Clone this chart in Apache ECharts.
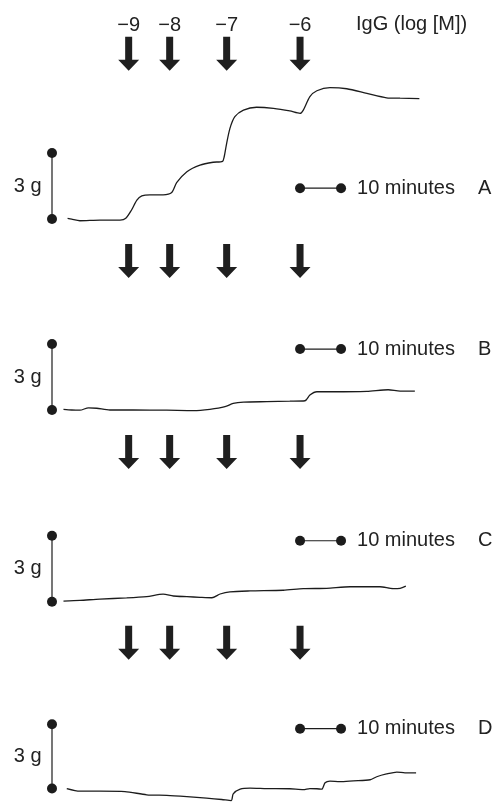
<!DOCTYPE html>
<html><head><meta charset="utf-8">
<script src="https://cdn.jsdelivr.net/npm/echarts@6/dist/echarts.min.js"></script>
<style>html,body{margin:0;padding:0;background:#fff}#c{width:494px;height:810px}</style>
</head><body><div id="c"></div>
<script>
// ---- data (time in minutes, tension in g) ----
const panels = ['A', 'B', 'C', 'D'];
const doseLabels = ['−9', '−8', '−7', '−6'];
const doseTimes = [18.7, 28.7, 42.6, 60.5];
const arrowTipLevel = [6.74, 6.0, 6.03, 6.0];
const timeBarLevel = [1.4, 2.77, 2.77, 2.79];
const timeBar = [60.5, 70.5];        // 10 minutes
const forceBar = [0, 3];             // 3 g
const axisTitle = 'IgG (log [M])';

const traceA = [[3.8,0.03],[4.8,-0.01],[6.8,-0.08],[11.7,-0.05],[16.6,-0.05],[18.0,0.03],[19.4,0.41],[20.7,0.86],[21.9,1.05],[23.9,1.10],[27.1,1.10],[29.2,1.20],[30.4,1.65],[32.9,2.15],[36.1,2.45],[39.3,2.58],[41.6,2.62],[42.0,2.83],[42.6,3.44],[43.4,4.12],[44.6,4.65],[46.7,4.95],[49.9,5.08],[54.0,5.03],[58.0,4.91],[60.5,4.80],[61.3,4.95],[62.9,5.56],[64.6,5.83],[67.8,5.97],[71.9,5.92],[76.8,5.71],[81.6,5.51],[84.9,5.49],[89.6,5.47]];
const traceB = [[2.8,0.03],[4.8,0.0],[6.8,-0.01],[8.9,0.10],[10.9,0.08],[14.1,0.0],[19.8,0.0],[28.0,-0.01],[34.5,-0.03],[38.5,0.03],[42.2,0.15],[44.2,0.30],[46.7,0.36],[52.4,0.38],[58.0,0.40],[61.7,0.42],[62.9,0.68],[64.6,0.83],[68.6,0.83],[76.8,0.85],[82.0,0.92],[84.9,0.86],[88.5,0.86]];
const traceC = [[2.8,0.03],[6.8,0.06],[11.7,0.12],[18.2,0.17],[23.1,0.23],[27.1,0.34],[29.6,0.26],[32.9,0.23],[36.1,0.20],[39.0,0.18],[41.0,0.35],[43.4,0.45],[48.3,0.49],[56.4,0.52],[61.3,0.59],[67.0,0.61],[72.7,0.68],[80.0,0.68],[83.2,0.59],[84.9,0.61],[86.3,0.71]];
const traceD = [[3.6,0.0],[6.8,-0.12],[11.7,-0.12],[17.8,-0.14],[23.1,-0.29],[28.0,-0.32],[32.9,-0.38],[37.7,-0.45],[41.4,-0.51],[43.7,-0.56],[44.2,-0.25],[45.9,-0.03],[48.3,0.02],[52.4,0.0],[58.0,-0.01],[61.3,-0.05],[62.9,0.0],[64.6,-0.01],[65.8,-0.03],[66.6,0.27],[67.8,0.35],[70.2,0.32],[73.5,0.36],[77.6,0.41],[79.2,0.55],[81.6,0.68],[84.1,0.77],[86.1,0.73],[88.8,0.73]];
const traces = [traceA, traceB, traceC, traceD];

// ---- layout ----
const INK = '#1c1c1c';
const TXT = '#222';
const FONT = '"Liberation Sans", Arial, sans-serif';
const gridTops = [10, 245, 436.7, 627.7];
const yMax = [9.5, 7.5, 7.5, 7.5];
const yMin = -1;
const pxPerG = 22;

const grids = [], xAxes = [], yAxes = [], series = [];
const arrowPath = 'path://M7,0 L14,0 L14,23 L21,23 L10.5,34 L0,23 L7,23 Z';

panels.forEach((p, i) => {
  grids.push({ left: 52, width: 410, top: gridTops[i], height: (yMax[i] - yMin) * pxPerG });
  xAxes.push({ type: 'value', gridIndex: i, min: 0, max: 100, show: false });
  yAxes.push({ type: 'value', gridIndex: i, min: yMin, max: yMax[i], show: false });

  series.push({
    type: 'line', xAxisIndex: i, yAxisIndex: i, data: traces[i],
    symbol: 'none', smooth: 0.25, clip: false,
    lineStyle: { color: INK, width: 1.3 }
  });
  series.push({
    type: 'line', xAxisIndex: i, yAxisIndex: i,
    data: forceBar.map(v => [0, v]),
    symbol: 'circle', symbolSize: 10, clip: false,
    itemStyle: { color: INK, opacity: 1 }, lineStyle: { color: INK, width: 1.2 }
  });
  series.push({
    type: 'scatter', xAxisIndex: i, yAxisIndex: i,
    data: [[0, (forceBar[0] + forceBar[1]) / 2]],
    symbolSize: 1, itemStyle: { color: 'rgba(0,0,0,0)', opacity: 1 }, clip: false,
    label: { show: true, position: 'left', distance: 10, formatter: '3 g',
             fontSize: 20, fontFamily: FONT, color: TXT, opacity: 1 }
  });
  series.push({
    type: 'line', xAxisIndex: i, yAxisIndex: i,
    data: [
      [timeBar[0], timeBarLevel[i]],
      { value: [timeBar[1], timeBarLevel[i]],
        label: { show: true, position: 'right', distance: 11,
                 formatter: '{t|10 minutes}{p|' + p + '}',
                 rich: { t: { fontSize: 20, fontFamily: FONT, color: TXT },
                         p: { fontSize: 20, fontFamily: FONT, color: TXT, padding: [0, 0, 0, 23] } } } }
    ],
    symbol: 'circle', symbolSize: 10, clip: false,
    itemStyle: { color: INK, opacity: 1 }, lineStyle: { color: INK, width: 1.2 }
  });
  series.push({
    type: 'scatter', xAxisIndex: i, yAxisIndex: i,
    data: doseTimes.map(t => [t, arrowTipLevel[i]]),
    symbol: arrowPath, symbolSize: [21, 34], symbolOffset: [0, -17], clip: false,
    itemStyle: { color: '#1f1f1f', opacity: 1 },
    label: i === 0 ? { show: true, position: 'top', distance: 1,
                       formatter: d => doseLabels[d.dataIndex],
                       fontSize: 20, fontFamily: FONT, color: TXT, opacity: 1 } : { show: false }
  });
});

const chart = echarts.init(document.getElementById('c'), null, { renderer: 'canvas' });
chart.setOption({
  animation: false,
  backgroundColor: '#fff',
  grid: grids, xAxis: xAxes, yAxis: yAxes, series: series,
  graphic: [{
    type: 'text', left: 356, top: 14,
    style: { text: axisTitle, fontSize: 20, fontFamily: FONT, fill: TXT }
  }]
});
</script></body></html>
